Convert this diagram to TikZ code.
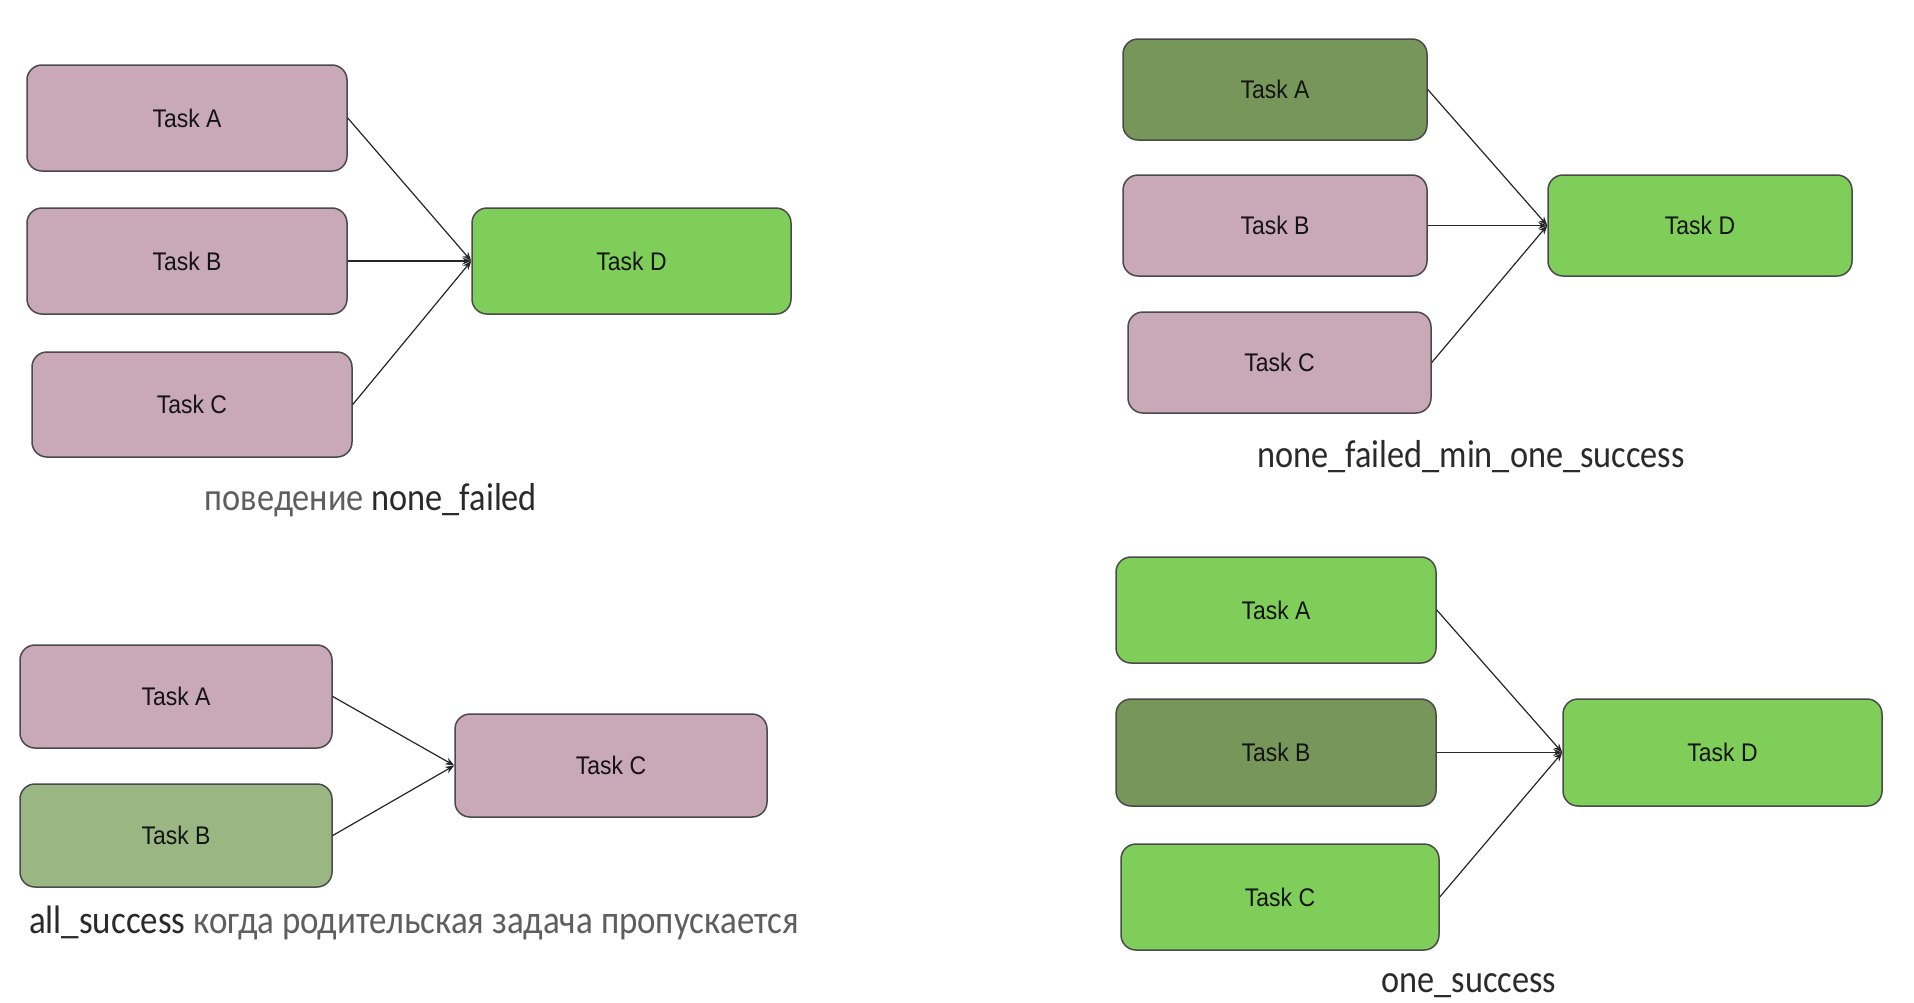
\documentclass[tikz,border=0pt]{standalone}
\usepackage{fontspec}
\usetikzlibrary{arrows.meta}
\newfontfamily\boxfont[FakeStretch=0.9]{Liberation Sans}
\newfontfamily\capfont[FakeStretch=0.88]{Carlito}
\definecolor{pinkfill}{HTML}{C9A9B7}
\definecolor{brightgreen}{HTML}{7ECE59}
\definecolor{darkgreen}{HTML}{76965A}
\definecolor{midgreen}{HTML}{9AB783}
\definecolor{bordercol}{HTML}{4A4A4A}
\definecolor{captiondark}{HTML}{2A2A2A}
\definecolor{captiongrey}{HTML}{5E5E5E}
\tikzset{
  taskbox/.style={draw=bordercol, line width=1.5pt, rounded corners=15pt,
    inner sep=0pt, text=black!92,
    font=\boxfont\fontsize{25.5}{30}\selectfont},
  pinkbox/.style={taskbox, fill=pinkfill},
  okbox/.style={taskbox, fill=brightgreen},
  darkbox/.style={taskbox, fill=darkgreen},
  midbox/.style={taskbox, fill=midgreen},
  conn/.style={draw=black!85, line width=1.2pt, -{Stealth[length=9pt,width=7pt]}},
  caption/.style={inner sep=0pt, anchor=base, font=\capfont\fontsize{39}{46}\selectfont}
}
\begin{document}
\begin{tikzpicture}[x=1pt,y=-1pt]
\fill[white] (0,0) rectangle (1914,1002);
\useasboundingbox (0,0) rectangle (1914,1002);

% Panel 1: none_failed
\node[pinkbox, minimum width=320pt, minimum height=106pt] (p1a) at (187,118) {Task A};
\node[pinkbox, minimum width=320pt, minimum height=106pt] (p1b) at (187,261) {Task B};
\node[pinkbox, minimum width=320pt, minimum height=105pt] (p1c) at (192,404.5) {Task C};
\node[okbox, minimum width=319pt, minimum height=106pt] (p1d) at (631.5,261) {Task D};
\draw[conn] (p1a.east) -- (p1d.west);
\draw[conn] (p1b.east) -- (p1d.west);
\draw[conn] (p1c.east) -- (p1d.west);
\node[caption] (cap1) at (371,510) {\textcolor{captiongrey}{поведение} \textcolor{captiondark}{none\_failed}};

% Panel 2: none_failed_min_one_success
\node[darkbox, minimum width=304pt, minimum height=101pt] (p2a) at (1275,89.5) {Task A};
\node[pinkbox, minimum width=304pt, minimum height=101pt] (p2b) at (1275,225.5) {Task B};
\node[pinkbox, minimum width=303pt, minimum height=101pt] (p2c) at (1279.5,362.5) {Task C};
\node[okbox, minimum width=304pt, minimum height=101pt] (p2d) at (1700,225.5) {Task D};
\draw[conn] (p2a.east) -- (p2d.west);
\draw[conn] (p2b.east) -- (p2d.west);
\draw[conn] (p2c.east) -- (p2d.west);
\node[caption, text=captiondark] (cap2) at (1471,467) {none\_failed\_min\_one\_success};

% Panel 3: all_success
\node[pinkbox, minimum width=312pt, minimum height=103pt] (p3a) at (176,696.5) {Task A};
\node[midbox, minimum width=312pt, minimum height=103pt] (p3b) at (176,835.5) {Task B};
\node[pinkbox, minimum width=312pt, minimum height=103pt] (p3c) at (611,765.5) {Task C};
\draw[conn] (p3a.east) -- (p3c.west);
\draw[conn] (p3b.east) -- (p3c.west);
\node[caption, font=\capfont\fontsize{39.7}{46}\selectfont] (cap3) at (414,933) {\textcolor{captiondark}{all\_success} \textcolor{captiongrey}{когда родительская задача пропускается}};

% Panel 4: one_success
\node[okbox, minimum width=320pt, minimum height=106pt] (p4a) at (1276,610) {Task A};
\node[darkbox, minimum width=320pt, minimum height=107pt] (p4b) at (1276,752.5) {Task B};
\node[okbox, minimum width=318pt, minimum height=106pt] (p4c) at (1280,897) {Task C};
\node[okbox, minimum width=319pt, minimum height=107pt] (p4d) at (1722.5,752.5) {Task D};
\draw[conn] (p4a.east) -- (p4d.west);
\draw[conn] (p4b.east) -- (p4d.west);
\draw[conn] (p4c.east) -- (p4d.west);
\node[caption, text=captiondark] (cap4) at (1469,992) {one\_success};
\end{tikzpicture}
\end{document}
